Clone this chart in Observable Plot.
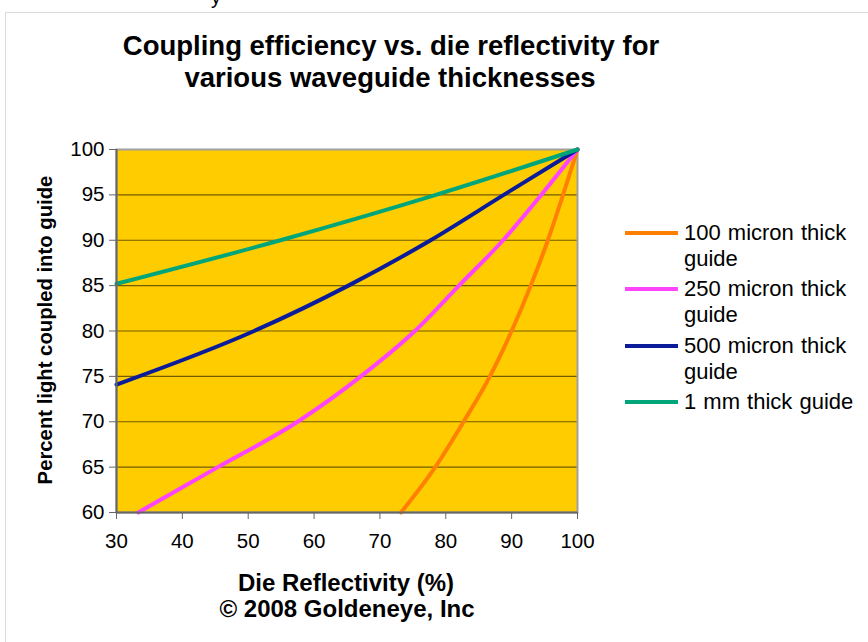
<!DOCTYPE html>
<html><head><meta charset="utf-8">
<script src="https://cdn.jsdelivr.net/npm/d3@7"></script>
<script src="https://cdn.jsdelivr.net/npm/@observablehq/plot@0.6"></script>
<style>
body{margin:0;background:#fff;font-family:"Liberation Sans",Arial,sans-serif;}
#wrap{position:relative;width:868px;height:642px;overflow:hidden;background:#fff;}
#wrap svg{position:absolute;left:0;top:0;}
.t{position:absolute;white-space:nowrap;color:#000;line-height:1;}
.b{font-weight:bold;}
.c{transform:translateX(-50%);}
.lg{position:absolute;left:625px;width:53px;height:4px;}
.lt{position:absolute;left:684px;font-size:22px;line-height:26px;word-spacing:1px;white-space:nowrap;}
</style></head><body><div id="wrap"></div>
<script>
const series = ["100 micron thick guide", "250 micron thick guide", "500 micron thick guide", "1 mm thick guide"];
const seriesColors = ["#FF8000", "#FF44FF", "#0A1C99", "#00A67A"];
// die reflectivity (%) vs percent light coupled
const refl100 = [73.2, 78.4, 82.7, 86.7, 90.0, 92.9, 95.5, 97.8, 100];
const coup100 = [60, 65, 70, 75, 80, 85, 90, 95, 100];
const refl250 = [33.3, 45.4, 57.5, 67.1, 75.3, 82.0, 88.7, 94.5, 100];
const coup250 = [60, 65, 70, 75, 80, 85, 90, 95, 100];
const refl500 = [30, 50.9, 65.2, 77.7, 88.8, 100];
const coup500 = [74.1, 80, 85, 90, 95, 100];
const refl1mm = [30, 54.9, 78.5, 100];
const coup1mm = [85.2, 90, 95, 100];
const xTicks = [30, 40, 50, 60, 70, 80, 90, 100];
const yTicks = [60, 65, 70, 75, 80, 85, 90, 95, 100];

const sets = [[refl100, coup100], [refl250, coup250], [refl500, coup500], [refl1mm, coup1mm]];
const rows = sets.flatMap(([xs, ys], i) => xs.map((x, j) => ({s: series[i], x, y: ys[j]})));

const font = '"Liberation Sans", Arial, sans-serif';
const plot = Plot.plot({
  width: 868, height: 642,
  marginLeft: 116, marginRight: 291, marginTop: 149, marginBottom: 130,
  x: {domain: [30, 100]},
  y: {domain: [60, 100]},
  color: {domain: series, range: seriesColors},
  style: {fontFamily: font, fontSize: "20.5px", background: "transparent", color: "#000"},
  marks: [
    Plot.frame({fill: "#FFCC00"}),
    Plot.ruleY(yTicks.filter(d => d > 60 && d < 100), {y: d => d, stroke: "#000", strokeOpacity: 0.55, strokeWidth: 1.2}),
    Plot.frame({stroke: "#a0a0a0", strokeWidth: 2}),
    Plot.line(rows, {x: "x", y: "y", z: "s", stroke: "s", strokeWidth: 4, curve: "monotone-x"}),
    Plot.ruleX([30], {stroke: "#666", strokeWidth: 2}),
    Plot.ruleY([60], {stroke: "#666", strokeWidth: 2}),
    Plot.axisY({ticks: yTicks, tickSize: 7, tickPadding: 5, label: null, stroke: "#666", fill: "#000", tickFormat: d => String(d)}),
    Plot.axisX({ticks: xTicks, tickSize: 7, tickPadding: 14, label: null, stroke: "#666", fill: "#000", tickFormat: d => String(d)})
  ]
});
const wrap = document.getElementById("wrap");
wrap.appendChild(plot);

function addText(txt, cls, style) {
  const el = document.createElement("div");
  el.className = "t " + cls;
  el.textContent = txt;
  Object.assign(el.style, style);
  wrap.appendChild(el);
  return el;
}
// page border lines and cut-off text above
const hb = document.createElement("div");
Object.assign(hb.style, {position: "absolute", left: "5px", top: "12px", width: "863px", height: "1px", background: "#dcdcdc"});
wrap.appendChild(hb);
const vb = document.createElement("div");
Object.assign(vb.style, {position: "absolute", left: "5px", top: "12px", width: "1px", height: "630px", background: "#dcdcdc"});
wrap.appendChild(vb);
addText("y", "", {left: "211px", top: "-13px", fontSize: "20px"});

addText("Coupling efficiency vs. die reflectivity for", "b c", {left: "391px", top: "32px", fontSize: "27.5px"});
addText("various waveguide thicknesses", "b c", {left: "390px", top: "64px", fontSize: "27.5px"});
const yl = addText("Percent light coupled into guide", "b", {left: "45px", top: "330px", fontSize: "20.3px"});
yl.style.transform = "translate(-50%,-50%) rotate(-90deg)";
addText("Die Reflectivity (%)", "b c", {left: "346px", top: "571px", fontSize: "24px"});
addText("\u00a9 2008 Goldeneye, Inc", "b c", {left: "347px", top: "597px", fontSize: "24px"});

const legendY = [233, 289, 346, 402];
const legendText = [["100 micron thick", "guide"], ["250 micron thick", "guide"], ["500 micron thick", "guide"], ["1 mm thick guide"]];
legendText.forEach((lines, i) => {
  const l = document.createElement("div");
  l.className = "lg";
  l.style.top = (legendY[i] - 2) + "px";
  l.style.background = seriesColors[i];
  wrap.appendChild(l);
  const t = document.createElement("div");
  t.className = "lt";
  t.style.top = (legendY[i] - 13) + "px";
  t.innerHTML = lines.join("<br>");
  wrap.appendChild(t);
});
</script></body></html>
